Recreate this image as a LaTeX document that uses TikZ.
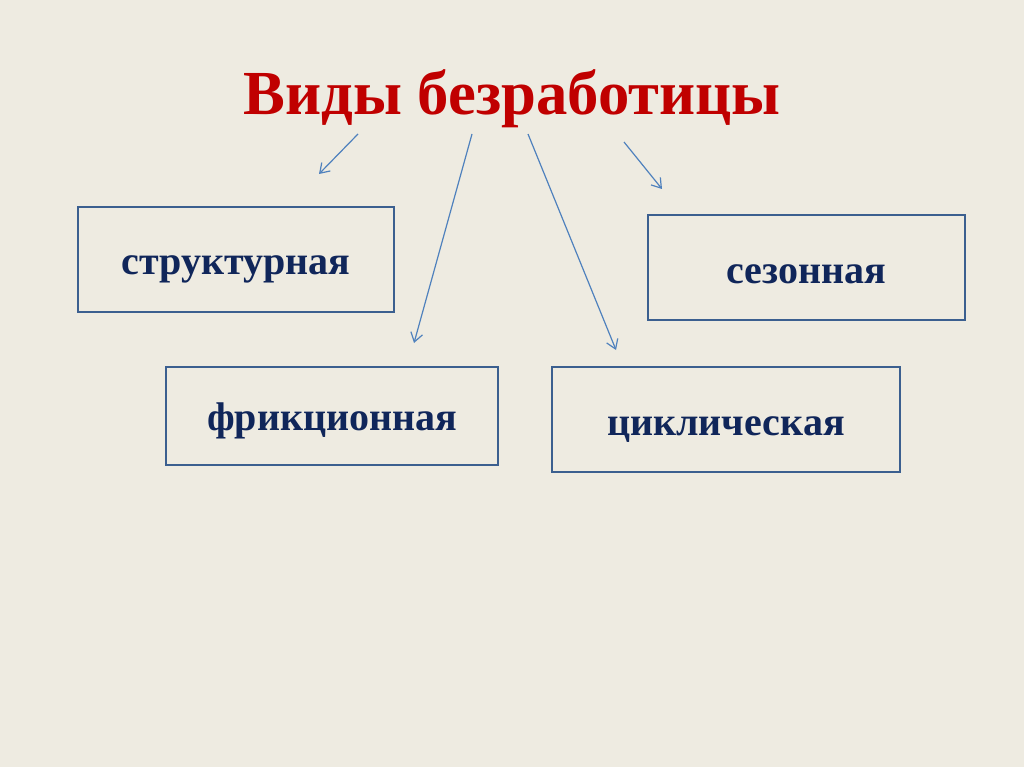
\documentclass[tikz,border=0pt]{standalone}
\usepackage{fontspec}
\setmainfont{Liberation Serif}
\usetikzlibrary{arrows.meta}
\definecolor{bgc}{HTML}{EEEBE1}
\definecolor{titlered}{HTML}{C00000}
\definecolor{boxblue}{HTML}{3B5F8F}
\definecolor{txtnavy}{HTML}{10265A}
\definecolor{arrblue}{HTML}{4F81BD}
\tikzset{
  kind/.style={draw=boxblue, line width=2.6pt, inner sep=0pt},
  kindtxt/.style={anchor=base, inner sep=0pt, text=txtnavy,
    font=\fontsize{40}{44}\selectfont\bfseries},
  arr/.style={draw=arrblue, line width=1.2pt, -{Straight Barb[length=9pt,width=12pt,line width=1.2pt]}}
}
\begin{document}
\begin{tikzpicture}[x=1pt,y=-1pt]
\fill[bgc] (0,0) rectangle (1024,767);
\useasboundingbox (0,0) rectangle (1024,767);
\node[anchor=base, inner sep=0pt, text=titlered, font=\fontsize{62.7}{70}\selectfont\bfseries] (title) at (512,115) {Виды безработицы};
\node[kind, minimum width=316pt, minimum height=105pt] (s1) at (236,259.5) {};
\node[kind, minimum width=317pt, minimum height=105pt] (s2) at (806.5,267.5) {};
\node[kind, minimum width=332pt, minimum height=98pt] (s3) at (332,416) {};
\node[kind, minimum width=348pt, minimum height=105pt] (s4) at (726,419.5) {};
\node[kindtxt] (t1) at (236,274.5) {структурная};
\node[kindtxt] (t2) at (806.5,283) {сезонная};
\node[kindtxt] (t3) at (332,430) {фрикционная};
\node[kindtxt] (t4) at (726,435) {циклическая};
\coordinate (a1s) at (358,134); \coordinate (a1e) at (319,174);
\coordinate (a2s) at (472,134); \coordinate (a2e) at (414,343);
\coordinate (a3s) at (528,134); \coordinate (a3e) at (616,350);
\coordinate (a4s) at (624,142); \coordinate (a4e) at (662,189);
\draw[arr] (a1s) -- (a1e);
\draw[arr] (a2s) -- (a2e);
\draw[arr] (a3s) -- (a3e);
\draw[arr] (a4s) -- (a4e);
\end{tikzpicture}
\end{document}
